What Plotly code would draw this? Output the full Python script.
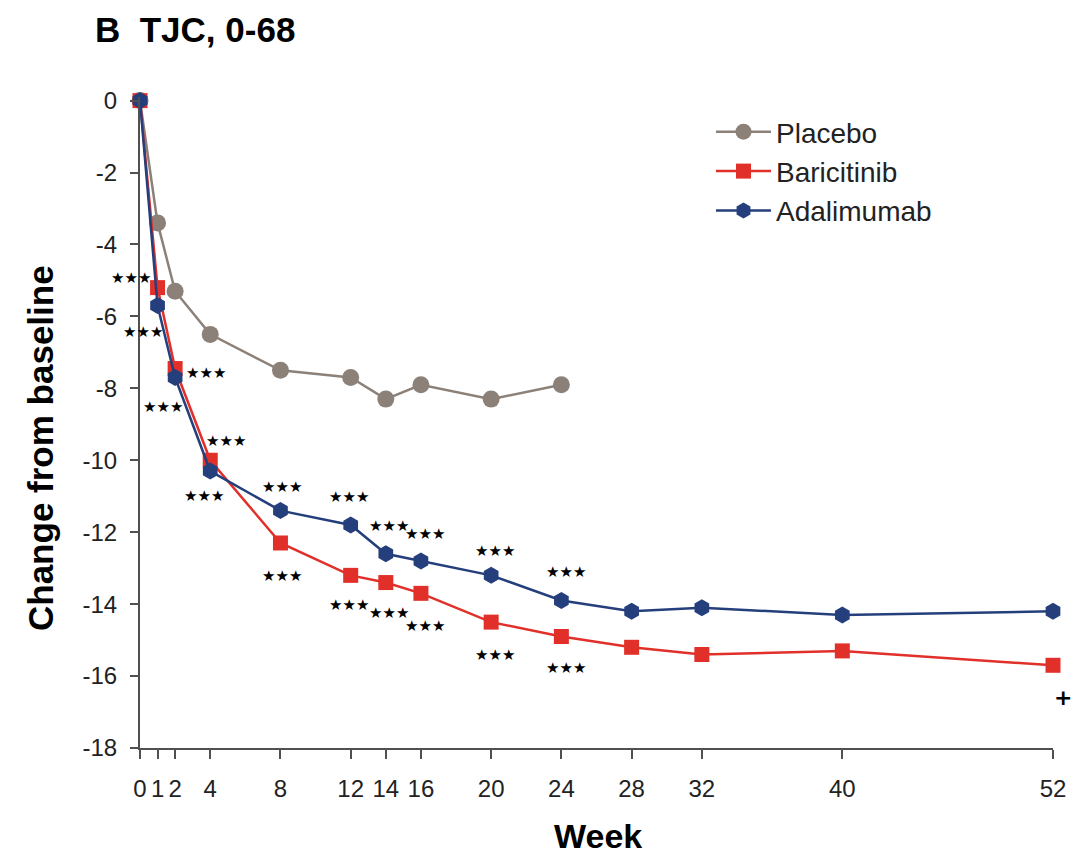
import plotly.graph_objects as go

weeks_placebo = [0, 1, 2, 4, 8, 12, 14, 16, 20, 24]
placebo = [0, -3.4, -5.3, -6.5, -7.5, -7.7, -8.3, -7.9, -8.3, -7.9]

weeks_active = [0, 1, 2, 4, 8, 12, 14, 16, 20, 24, 28, 32, 40, 52]
baricitinib = [0, -5.2, -7.45, -10.0, -12.3, -13.2, -13.4, -13.7, -14.5, -14.9, -15.2, -15.4, -15.3, -15.7]
adalimumab = [0, -5.7, -7.7, -10.3, -11.4, -11.8, -12.6, -12.8, -13.2, -13.9, -14.2, -14.1, -14.3, -14.2]

x_ticks = [0, 1, 2, 4, 8, 12, 14, 16, 20, 24, 28, 32, 40, 52]
y_ticks = [0, -2, -4, -6, -8, -10, -12, -14, -16, -18]

# significance labels: (week, series, text, xshift, yshift)
sig_labels = [
    (1, "bari", "★★★", -27, 10),
    (1, "ada", "★★★", -15, -26),
    (2, "bari", "★★★", 31, -4),
    (2, "ada", "★★★", -12, -29),
    (4, "bari", "★★★", 16, 19),
    (4, "ada", "★★★", -6, -25),
    (8, "ada", "★★★", 2, 24),
    (8, "bari", "★★★", 2, -33),
    (12, "ada", "★★★", -2, 28),
    (12, "bari", "★★★", -2, -30),
    (14, "ada", "★★★", 3, 28),
    (14, "bari", "★★★", 3, -30),
    (16, "ada", "★★★", 4, 27),
    (16, "bari", "★★★", 4, -33),
    (20, "ada", "★★★", 4, 24),
    (20, "bari", "★★★", 4, -33),
    (24, "ada", "★★★", 5, 29),
    (24, "bari", "★★★", 5, -31),
    (52, "bari", "<b>+</b>", 10, -32),
]

GRAY = "#8b8179"
RED = "#e1302a"
BLUE = "#253f7c"
AXIS = "#505050"

fig = go.Figure()
fig.add_trace(go.Scatter(
    x=weeks_placebo, y=placebo, name="Placebo", mode="lines+markers",
    line=dict(color=GRAY, width=2.5),
    marker=dict(symbol="circle", size=17, color=GRAY),
    cliponaxis=False))
fig.add_trace(go.Scatter(
    x=weeks_active, y=baricitinib, name="Baricitinib", mode="lines+markers",
    line=dict(color=RED, width=2.5),
    marker=dict(symbol="square", size=15, color=RED),
    cliponaxis=False))
fig.add_trace(go.Scatter(
    x=weeks_active, y=adalimumab, name="Adalimumab", mode="lines+markers",
    line=dict(color=BLUE, width=2.5),
    marker=dict(symbol="hexagon", size=17, color=BLUE),
    cliponaxis=False))

series = {"bari": baricitinib, "ada": adalimumab}
for wk, s, txt, xs, ys in sig_labels:
    yv = series[s][weeks_active.index(wk)]
    fig.add_annotation(
        x=wk, y=yv, xref="x", yref="y", text=txt, showarrow=False,
        xshift=xs, yshift=ys, xanchor="center", yanchor="middle",
        font=dict(family="DejaVu Sans", size=15 if txt == "★★★" else 22, color="black"))

# axis titles placed as annotations
fig.add_annotation(
    text="<b>Change from baseline</b>", xref="paper", yref="paper",
    x=-100/913, y=(748-448)/651, xanchor="center", yanchor="middle",
    textangle=-90, showarrow=False,
    font=dict(size=35, color="black"))
fig.add_annotation(
    text="<b>Week</b>", xref="paper", yref="paper",
    x=(598-140)/913, y=-(836-748)/651, xanchor="center", yanchor="middle",
    showarrow=False, font=dict(size=34, color="black"))

fig.update_layout(
    width=1082, height=859,
    margin=dict(l=140, r=29, t=97, b=111, autoexpand=False),
    paper_bgcolor="white", plot_bgcolor="white",
    font=dict(family="Liberation Sans, Arial, sans-serif", color="#222222"),
    title=dict(text="<b>B\u00a0\u00a0TJC, 0-68</b>", xref="container", yref="container",
               x=95/1082, xanchor="left", y=1 - 30/859, yanchor="middle",
               font=dict(size=35, color="black")),
    showlegend=True,
    legend=dict(x=(711-140)/913, xanchor="left", y=(748-107)/651, yanchor="top",
                font=dict(size=28, color="#222222"), bgcolor="rgba(0,0,0,0)",
                tracegroupgap=0, itemwidth=55),
    xaxis=dict(range=[0, 52], tickvals=x_ticks, ticktext=[str(v) for v in x_ticks],
               showline=True, linecolor=AXIS, linewidth=2, ticks="outside",
               ticklen=9, tickwidth=2, tickcolor=AXIS, showgrid=False, zeroline=False,
               tickfont=dict(size=24, color="#222222"), ticklabelstandoff=9,
               automargin=False),
    yaxis=dict(range=[-18, 0.1], tickvals=y_ticks, ticktext=[str(v) for v in y_ticks],
               showline=True, linecolor=AXIS, linewidth=2, ticks="outside",
               ticklen=8, tickwidth=2, tickcolor=AXIS, showgrid=False, zeroline=False,
               tickfont=dict(size=24, color="#222222"), ticklabelstandoff=8,
               automargin=False),
)

fig.write_html("out.html")
